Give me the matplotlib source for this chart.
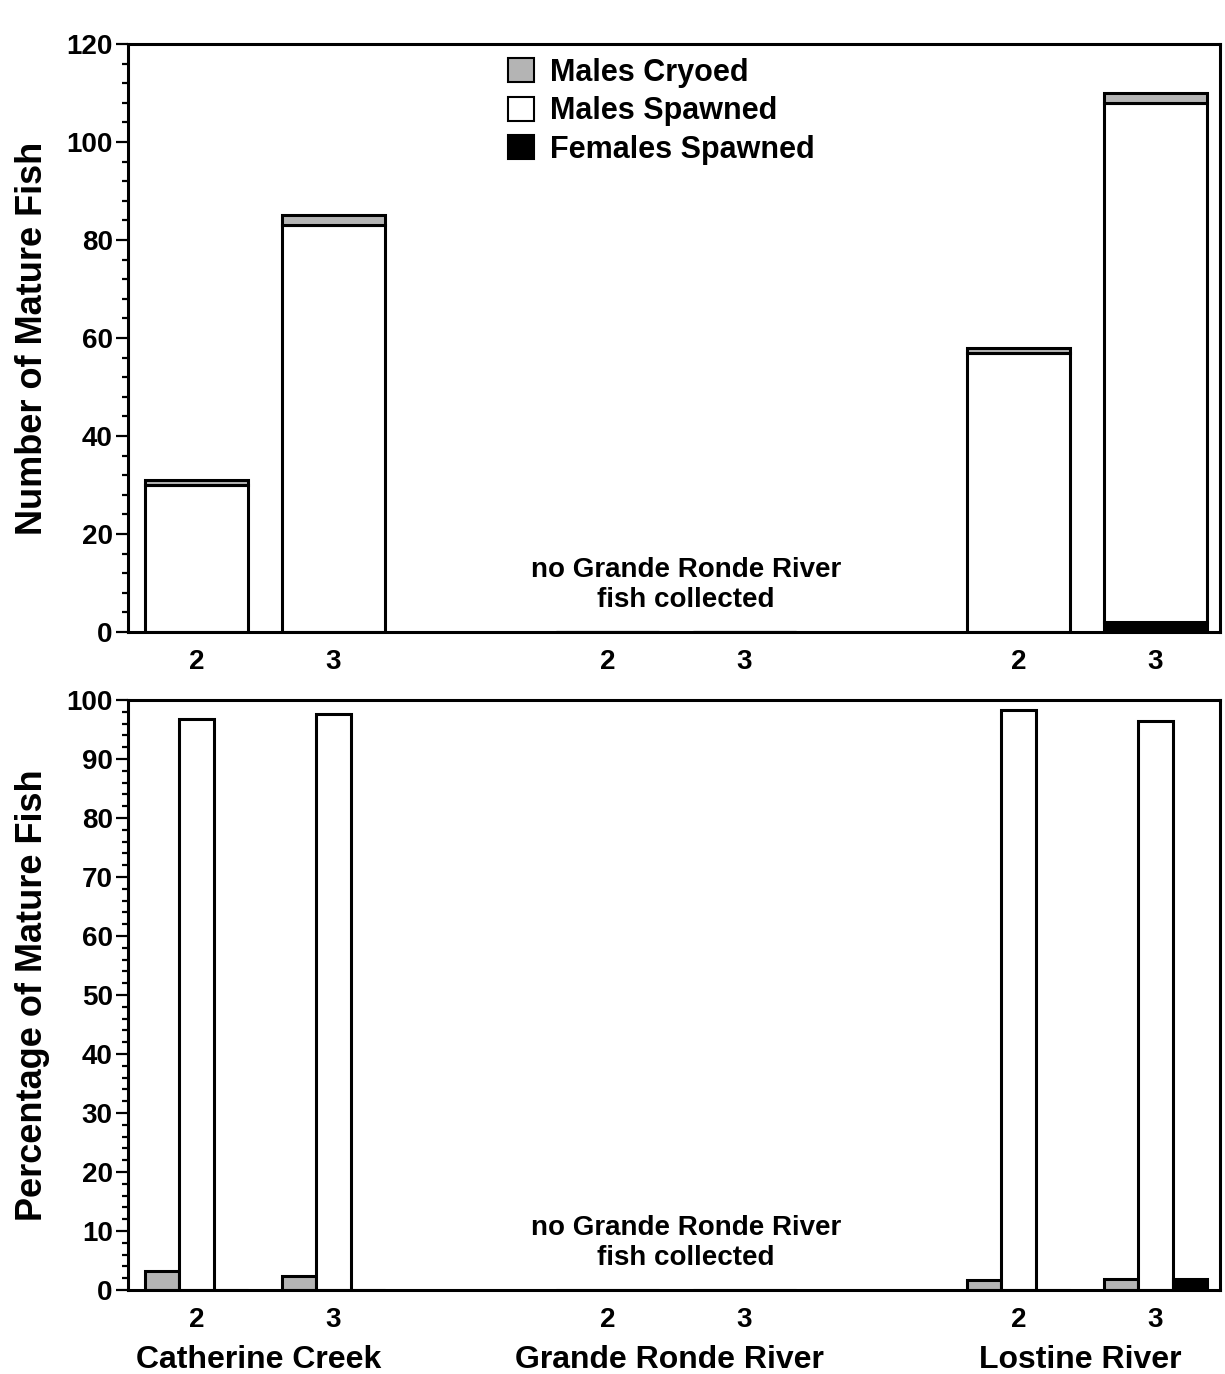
import matplotlib
matplotlib.use("Agg")
import matplotlib.pyplot as plt
from matplotlib.patches import Patch
from matplotlib.ticker import MultipleLocator
import matplotlib.transforms as mtransforms

plt.rcParams['font.family'] = ['Liberation Sans', 'DejaVu Sans']
plt.rcParams['font.weight'] = 'bold'

groups = ['Catherine Creek', 'Grande Ronde River', 'Lostine River']
age_labels = ['2', '3', '2', '3', '2', '3']
positions = [0, 1, 3, 4, 6, 7]
group_centers = [0.5, 3.5, 6.5]

# Counts (top panel)
males_cryoed_n = [1, 2, 0, 0, 1, 2]
males_spawned_n = [30, 83, 0, 0, 57, 106]
females_spawned_n = [0, 0, 0, 0, 0, 2]

# Percentages (bottom panel)
males_cryoed_pct = [3.2, 2.4, 0, 0, 1.7, 1.8]
males_spawned_pct = [96.8, 97.6, 0, 0, 98.3, 96.4]
females_spawned_pct = [0, 0, 0, 0, 0, 1.8]

gray = '#b4b4b4'
lw = 2.2

fig = plt.figure(figsize=(12.25, 13.74), dpi=100)
ax1 = fig.add_axes([0.1045, 0.540, 0.8914, 0.428])
ax2 = fig.add_axes([0.1045, 0.0611, 0.8914, 0.4294])

# Top stacked bars
w = 0.75
ax1.bar(positions, females_spawned_n, width=w, color='black', edgecolor='black', linewidth=lw, zorder=3)
ax1.bar(positions, males_spawned_n, width=w, bottom=females_spawned_n, color='white',
        edgecolor='black', linewidth=lw, zorder=3)
bottoms = [a + b for a, b in zip(females_spawned_n, males_spawned_n)]
ax1.bar(positions, males_cryoed_n, width=w, bottom=bottoms, color=gray,
        edgecolor='black', linewidth=lw, zorder=3)

# Bottom grouped bars
sw = 0.25
ax2.bar([p - sw for p in positions], males_cryoed_pct, width=sw, color=gray, edgecolor='black', linewidth=lw, zorder=3)
ax2.bar(positions, males_spawned_pct, width=sw, color='white', edgecolor='black', linewidth=lw, zorder=3)
ax2.bar([p + sw for p in positions], females_spawned_pct, width=sw, color='black', edgecolor='black', linewidth=lw, zorder=3)

for ax, ymax, major, minor in [(ax1, 120, 20, 4), (ax2, 100, 10, 2)]:
    ax.set_xlim(-0.5, 7.47)
    ax.set_ylim(0, ymax)
    ax.yaxis.set_major_locator(MultipleLocator(major))
    ax.yaxis.set_minor_locator(MultipleLocator(minor))
    ax.set_xticks(positions)
    ax.set_xticklabels(age_labels)
    ax.tick_params(axis='x', length=0, pad=12, labelsize=20)
    ax.tick_params(axis='y', which='major', length=9, width=1.6, pad=2, labelsize=20, direction='out')
    ax.tick_params(axis='y', which='minor', length=4, width=1.6, direction='out')
    for sp in ax.spines.values():
        sp.set_linewidth(lw)
        sp.set_zorder(4)
    for lab in ax.get_xticklabels() + ax.get_yticklabels():
        lab.set_fontweight('bold')
    ax.text(3.57, 0.08, 'no Grande Ronde River\nfish collected',
            transform=mtransforms.blended_transform_factory(ax.transData, ax.transAxes),
            ha='center', va='center', fontsize=20, fontweight='bold', linespacing=1.2)
    ax.yaxis.set_label_coords(-0.071, 0.5)

ax1.set_ylabel('Number of Mature Fish', fontsize=26, fontweight='bold')
ax2.set_ylabel('Percentage of Mature Fish', fontsize=26, fontweight='bold')

trans = mtransforms.blended_transform_factory(ax2.transData, ax2.transAxes)
for gc, g in zip(group_centers, groups):
    ax2.text(gc - 0.05, -0.118, g, transform=trans, ha='center', va='center', fontsize=23, fontweight='bold')

handles = [Patch(facecolor=gray, edgecolor='black', linewidth=1.5),
           Patch(facecolor='white', edgecolor='black', linewidth=1.5),
           Patch(facecolor='black', edgecolor='black', linewidth=1.5)]
leg = ax1.legend(handles, ['Males Cryoed', 'Males Spawned', 'Females Spawned'],
                 loc='upper left', bbox_to_anchor=(0.328, 1.013), frameon=False,
                 fontsize=22, handlelength=0.85, handleheight=0.85, handletextpad=0.55,
                 labelspacing=0.28, borderaxespad=0.3)
for t in leg.get_texts():
    t.set_fontweight('bold')

fig.savefig('out.png', dpi=100)
